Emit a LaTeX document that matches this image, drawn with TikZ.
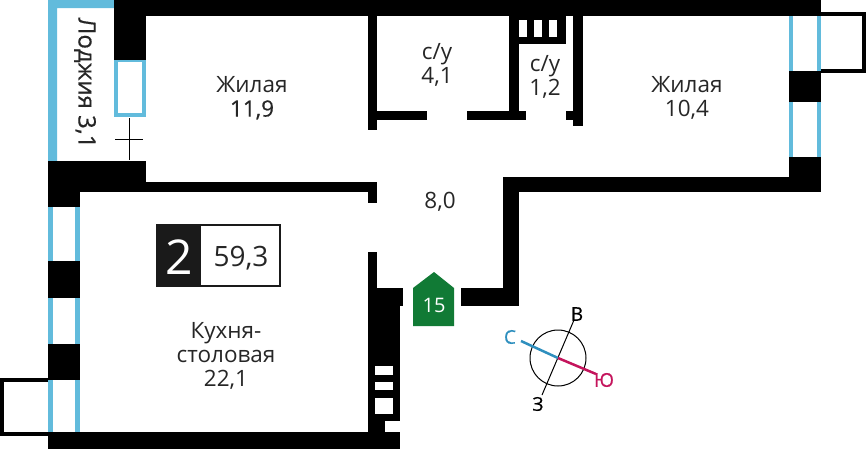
\documentclass[tikz,border=0pt]{standalone}
\usepackage{fontspec}
\setmainfont{Open Sans}
\newfontfamily\semifont[FakeBold=0.5]{Open Sans}
\definecolor{glassblue}{HTML}{62BBDC}
\definecolor{northblue}{HTML}{2E8FBE}
\definecolor{southred}{HTML}{C4145C}
\definecolor{doorgreen}{HTML}{117A35}
\definecolor{badgeblack}{HTML}{1A1A1A}
\tikzset{
  wall/.style={fill=black},
  glass/.style={fill=glassblue},
  roomlabel/.style={align=center, inner sep=0pt, text=black!85, font=\fontsize{22.5}{24}\selectfont},
  compasslabel/.style={inner sep=0pt, font=\fontsize{19}{19}\selectfont\semifont}
}
\begin{document}
\begin{tikzpicture}[x=1pt, y=-1pt]
        \useasboundingbox (0,0) rectangle (866,450);
        % glass
        \fill[glass] (48,0) rectangle (114,8) (48,0) rectangle (57,161);
        \draw[glassblue, line width=4pt] (116,60) rectangle (144,115);
        \foreach \xa/\xb in {48/53, 75/80} {
          \fill[glass] (\xa,207) rectangle (\xb,432);
        }
        \foreach \xa/\xb in {789/793, 817/821} {
          \fill[glass] (\xa,16) rectangle (\xb,157);
        }
        % outer walls
        \fill[wall] (114,0) rectangle (821,16);
        \fill[wall] (114,0) rectangle (146,60);
        \fill[wall] (48,161) rectangle (146,192);
        \fill[wall] (48,161) rectangle (80,207);
        \fill[wall] (146,182) rectangle (377,192);
        \fill[wall] (368,182) rectangle (377,203);
        \fill[wall] (48,261) rectangle (80,298);
        \fill[wall] (48,344) rectangle (80,380);
        \fill[wall] (48,432) rectangle (400,449);
        \fill[wall] (789,71) rectangle (821,102);
        \fill[wall] (789,157) rectangle (821,192);
        \fill[wall] (503,177) rectangle (821,192);
        \fill[wall] (503,177) rectangle (519,306);
        \fill[wall] (461,288) rectangle (519,306);
        % inner walls
        \fill[wall] (368,16) rectangle (377,130);
        \fill[wall] (368,111) rectangle (427,120);
        \fill[wall] (467,111) rectangle (526,120);
        \fill[wall] (509,16) rectangle (519,120);
        \fill[wall] (509,16) rectangle (566,44);
        \fill[wall] (573,16) rectangle (583,126);
        \fill[wall] (566,111) rectangle (573,120);
        \fill[wall] (368,252) rectangle (377,288);
        \fill[wall] (368,288) rectangle (403,306);
        \fill[wall] (368,306) rectangle (400,421);
        \fill[wall] (368,421) rectangle (385,432);
        % shafts
        \foreach \xa in {519, 534, 549} {
          \fill[white] (\xa,20) rectangle (\xa+8,37);
        }
        \foreach \ya/\yb in {366/375, 382/390, 398/414} {
          \fill[white] (375,\ya) rectangle (393,\yb);
        }
        % balconies
        \draw[line width=4pt] (48,380) -- (2,380) -- (2,434) -- (48,434);
        \draw[line width=4pt] (821,14) -- (864,14) -- (864,70.5) -- (821,70.5);
        % loggia door
        \draw[line width=1pt] (129,118) -- (129,160) (115,139) -- (143,139);
        % labels
        \node[roomlabel, rotate=-90, font=\fontsize{24}{24}\selectfont\semifont] (loggia) at (85,83) {Лоджия 3,1};
        \node[roomlabel] (room1) at (252,98) {Жилая\\{\semifont 11,9}};
        \node[roomlabel] (bath1) at (437,65) {с/у\\4,1};
        \node[roomlabel] (bath2) at (545,77) {с/у\\1,2};
        \node[roomlabel] (room2) at (687,98) {Жилая\\10,4};
        \node[roomlabel] (hall) at (440,202) {8,0};
        \node[roomlabel] (kitchen) at (226,356) {Кухня-\\столовая\\22,1};
        % badge
        \fill[badgeblack] (156,224) rectangle (281,287);
        \fill[white] (201,226) rectangle (279,285);
        \node[text=white, inner sep=0pt, font=\fontsize{48}{48}\selectfont] (rooms) at (179,257) {2};
        \node[text=black!85, inner sep=0pt, font=\fontsize{28}{28}\selectfont] (area) at (241,258) {59,3};
        % entrance
        \fill[doorgreen] (413,288) -- (434,272) -- (454,288) -- (454,326) -- (413,326) -- cycle;
        \node[text=white, inner sep=0pt, font=\fontsize{20}{20}\selectfont] (entrance) at (434,305) {15};
        % compass
        \coordinate (centre) at (558,358);
        \coordinate (west) at (542,395);
        \coordinate (east) at (574,320);
        \coordinate (north) at (521,341);
        \coordinate (south) at (596,374);
        \draw[line width=1pt] (centre) circle (28);
        \draw[line width=1pt] (west) -- (east);
        \draw[northblue, line width=2.5pt] (north) -- (centre);
        \draw[southred, line width=2.5pt] (centre) -- (south);
        \node[compasslabel, text=northblue] (northlabel) at (510,337) {С};
        \node[compasslabel, text=southred] (southlabel) at (604,380) {Ю};
        \node[compasslabel] (eastlabel) at (577,314) {В};
        \node[compasslabel] (westlabel) at (538,404) {З};
      \end{tikzpicture}
\end{document}
